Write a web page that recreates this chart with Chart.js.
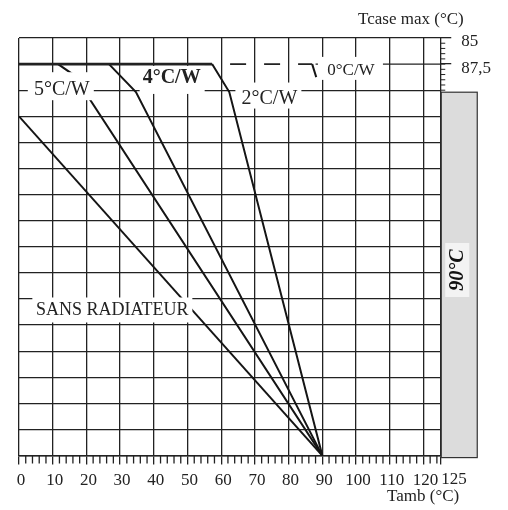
<!DOCTYPE html>
<html>
<head>
<meta charset="utf-8">
<script src="https://cdn.jsdelivr.net/npm/chart.js@4.4.0/dist/chart.umd.min.js"></script>
<style>
  html, body { margin: 0; padding: 0; background: #fff; }
  #wrap { width: 508px; height: 510px; }
</style>
</head>
<body>
<div id="wrap"><canvas id="c"></canvas></div>
<script>
// Tamb axis (bottom)
const tambTicks = [0, 10, 20, 30, 40, 50, 60, 70, 80, 90, 100, 110, 120, 125];
const tambLabels = ['0', '10', '20', '30', '40', '50', '60', '70', '80', '90', '100', '110', '120', '125'];
// Tcase max axis (right), reversed
const tcaseTicks = [85, 87.5];
const tcaseLabels = ['85', '87,5'];
const tcaseZone = [90, 125];     // grey zone
const tcaseZoneLabel = '90°C';

// curves: x = Tamb (°C), y = grid divisions (0..16)
const sansX = [0, 90];
const sansY = [13, 0];
const r5X = [11.6, 16.3, 90];
const r5Y = [15, 14.58, 0];
const r4X = [26.7, 34.7, 90];
const r4Y = [15, 13.93, 0];
const r2X = [57.3, 62.4, 90];
const r2Y = [15, 13.93, 0];
const r0X = [87, 88.2];
const r0Y = [15, 14.5];

const curveNames = ['SANS RADIATEUR', '5°C/W', '4°C/W', '2°C/W', '0°C/W'];

const INK = '#222';
const SERIF = '"Liberation Serif", "Times New Roman", serif';

function pts(xs, ys) {
  return xs.map((x, i) => ({ x: x, y: ys[i] }));
}

function curve(label, xs, ys) {
  return {
    label: label,
    data: pts(xs, ys),
    borderColor: '#151515',
    borderWidth: 2,
    pointRadius: 0,
    tension: 0,
    fill: false
  };
}

function labelBox(ctx, text, font, cx, cy, l, r, t, b) {
  ctx.fillStyle = '#fff';
  ctx.fillRect(cx - l, cy - t, l + r, t + b);
  ctx.font = font;
  ctx.fillStyle = INK;
  ctx.textAlign = 'center';
  ctx.textBaseline = 'middle';
  ctx.fillText(text, cx, cy);
}

const extras = {
  id: 'extras',
  afterDatasetsDraw(chart) {
    const ctx = chart.ctx;
    const xs = chart.scales.x, ys = chart.scales.y, y2 = chart.scales.y2;
    const area = chart.chartArea;
    ctx.save();
    ctx.strokeStyle = INK;

    // limit line at 87,5 : thick, then dashed, then normal grid
    const yl = ys.getPixelForValue(15);
    ctx.lineWidth = 2.6;
    ctx.beginPath();
    ctx.moveTo(xs.getPixelForValue(0), yl);
    ctx.lineTo(xs.getPixelForValue(57.3), yl);
    ctx.stroke();
    ctx.lineWidth = 1.6;
    ctx.setLineDash([16, 18]);
    ctx.lineDashOffset = 16;
    ctx.beginPath();
    ctx.moveTo(xs.getPixelForValue(57.3), yl);
    ctx.lineTo(xs.getPixelForValue(87), yl);
    ctx.stroke();
    ctx.setLineDash([]);
    ctx.lineWidth = 1.3;
    ctx.beginPath();
    ctx.moveTo(xs.getPixelForValue(88), yl);
    ctx.lineTo(xs.getPixelForValue(125), yl);
    ctx.stroke();

    // curve labels on white boxes
    const big = '20px ' + SERIF;
    let cx = xs.getPixelForValue(12.7), cy = ys.getPixelForValue(14);
    labelBox(ctx, curveNames[1], big, cx, cy, 34, 32, 18, 10);
    cx = xs.getPixelForValue(45.3); cy = ys.getPixelForValue(14.47);
    labelBox(ctx, curveNames[2], 'bold ' + big, cx, cy, 32, 33, 12, 16);
    cx = xs.getPixelForValue(74.3); cy = ys.getPixelForValue(13.68);
    labelBox(ctx, curveNames[3], big, cx, cy, 34, 32, 16, 10);
    cx = xs.getPixelForValue(98.5); cy = ys.getPixelForValue(14.74);
    labelBox(ctx, curveNames[4], '17px ' + SERIF, cx, cy, 33, 32, 14, 9);
    cx = xs.getPixelForValue(27.7); cy = ys.getPixelForValue(5.56);
    labelBox(ctx, curveNames[0], '18px ' + SERIF, cx, cy, 80, 80, 13, 12);

    // minor ticks on Tamb axis
    ctx.lineWidth = 1.3;
    ctx.beginPath();
    for (let v = 2; v < 125; v += 2) {
      if (v % 10 === 0) continue;
      const px = xs.getPixelForValue(v);
      ctx.moveTo(px, area.bottom);
      ctx.lineTo(px, area.bottom + 8);
    }
    ctx.stroke();

    // ruler ticks on Tcase axis
    ctx.lineWidth = 1;
    ctx.beginPath();
    for (let v = 85.5; v < 90.01; v += 0.5) {
      const py = y2.getPixelForValue(v);
      ctx.moveTo(area.right, py);
      ctx.lineTo(area.right + 5, py);
    }
    ctx.stroke();

    // grey zone
    const zt = y2.getPixelForValue(tcaseZone[0]) + 2;
    const zb = y2.getPixelForValue(tcaseZone[1]) + 2;
    const zl = area.right + 1, zw = 36;
    ctx.fillStyle = '#dcdcdc';
    ctx.fillRect(zl, zt, zw, zb - zt);
    ctx.lineWidth = 1.2;
    ctx.strokeStyle = '#333';
    ctx.strokeRect(zl, zt, zw, zb - zt);
    ctx.save();
    ctx.translate(zl + zw / 2 - 2, 270);
    ctx.rotate(-Math.PI / 2);
    ctx.fillStyle = '#f3f3f3';
    ctx.fillRect(-27, -12, 54, 24);
    ctx.fillStyle = '#111';
    ctx.font = 'italic bold 20px ' + SERIF;
    ctx.textAlign = 'center';
    ctx.textBaseline = 'middle';
    ctx.fillText(tcaseZoneLabel, 0, 1);
    ctx.restore();

    // last Tamb label, set a bit to the right
    ctx.fillStyle = INK;
    ctx.font = '17px ' + SERIF;
    ctx.textAlign = 'left';
    ctx.textBaseline = 'middle';
    ctx.fillText(tambLabels[tambLabels.length - 1], xs.getPixelForValue(125) + 1, 480);

    // axis titles
    ctx.textBaseline = 'alphabetic';
    ctx.fillText('Tcase max (°C)', 358, 24);
    ctx.fillText('Tamb (°C)', 387, 501);
    ctx.restore();
  }
};

new Chart(document.getElementById('c'), {
  type: 'line',
  data: {
    datasets: [
      curve(curveNames[0], sansX, sansY),
      curve(curveNames[1], r5X, r5Y),
      curve(curveNames[2], r4X, r4Y),
      curve(curveNames[3], r2X, r2Y),
      curve(curveNames[4], r0X, r0Y)
    ]
  },
  options: {
    responsive: true,
    maintainAspectRatio: false,
    animation: false,
    layout: { padding: { left: 19, top: 38, right: 7, bottom: 13 } },
    plugins: { legend: { display: false }, tooltip: { enabled: false } },
    scales: {
      x: {
        type: 'linear',
        min: 0,
        max: 125,
        afterBuildTicks: (axis) => { axis.ticks = tambTicks.map(v => ({ value: v })); },
        grid: { color: INK, lineWidth: 1.3, tickLength: 9, tickColor: INK },
        border: { display: true, color: INK, width: 1.5 },
        ticks: {
          autoSkip: false,
          maxRotation: 0,
          padding: 6,
          labelOffset: 2,
          color: INK,
          font: { family: SERIF, size: 17 },
          callback: (v, i) => (i === tambLabels.length - 1 ? '' : tambLabels[i])
        }
      },
      y: {
        type: 'linear',
        min: 0,
        max: 16,
        ticks: { stepSize: 1, display: false },
        grid: {
          drawTicks: false,
          lineWidth: 1.3,
          color: (c) => (c.tick && c.tick.value === 15 ? 'rgba(0,0,0,0)' : INK)
        },
        border: { display: false }
      },
      y2: {
        type: 'linear',
        position: 'right',
        reverse: true,
        min: 85,
        max: 125,
        afterBuildTicks: (axis) => { axis.ticks = tcaseTicks.map(v => ({ value: v })); },
        grid: { drawOnChartArea: false, tickLength: 11, lineWidth: 1.3, color: INK },
        border: { display: false },
        ticks: {
          padding: 10,
          labelOffset: 4,
          color: INK,
          font: { family: SERIF, size: 17 },
          callback: (v, i) => tcaseLabels[i]
        }
      }
    }
  },
  plugins: [extras]
});
</script>
</body>
</html>
